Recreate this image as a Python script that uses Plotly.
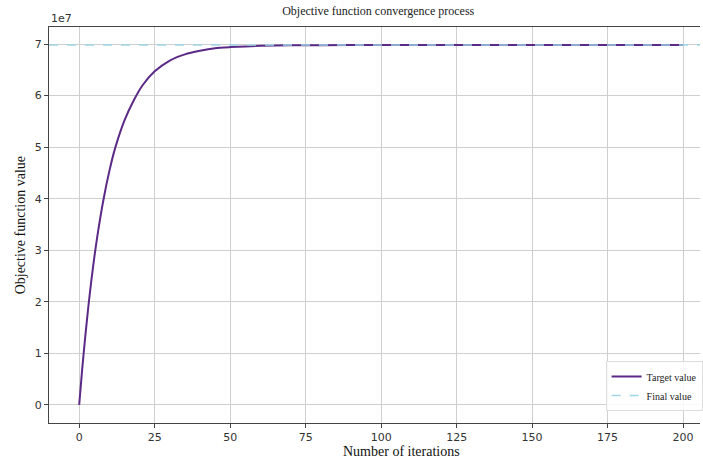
import plotly.graph_objects as go

iterations = [0, 1, 2, 3, 4, 5, 6, 8, 10, 12, 15, 18, 21, 25, 30, 35, 40, 45, 50, 60, 70, 80, 100, 125, 150, 175, 200]
objective = [0.0, 0.70e7, 1.32e7, 1.89e7, 2.40e7, 2.86e7, 3.27e7, 3.97e7, 4.54e7, 5.00e7, 5.52e7,
             5.90e7, 6.20e7, 6.47e7, 6.68e7, 6.80e7, 6.87e7, 6.92e7, 6.94e7, 6.965e7, 6.975e7,
             6.978e7, 6.98e7, 6.98e7, 6.98e7, 6.98e7, 6.98e7]
final_value = 6.98e7
x_ticks = [0, 25, 50, 75, 100, 125, 150, 175, 200]
y_ticks = [0, 1, 2, 3, 4, 5, 6, 7]

fig = go.Figure()
fig.add_trace(go.Scatter(x=iterations, y=objective, mode="lines", name="Target value",
                         line=dict(color="#5b2a86", width=2, shape="spline", smoothing=0.6)))
fig.add_trace(go.Scatter(x=[-10, 215], y=[final_value, final_value], mode="lines", name="Final value",
                         line=dict(color="#9fd6e6", width=1.5, dash="dash")))

serif = "Liberation Serif, Times New Roman, serif"
sans = "DejaVu Sans, Arial, sans-serif"

fig.update_layout(
    width=703, height=461,
    margin=dict(l=49, r=0, t=27, b=38),
    paper_bgcolor="white", plot_bgcolor="white",
    title=dict(text="Objective function convergence process", x=0.538, xanchor="center",
               y=0.985, yanchor="top", font=dict(family=serif, size=12, color="#222")),
    xaxis=dict(range=[-10, 205.6], tickvals=x_ticks, showgrid=True, gridcolor="#cfcfcf", gridwidth=1,
               showline=True, linecolor="#444", linewidth=1.2, mirror=True, automargin=False,
               ticks="outside", ticklen=4, tickcolor="#444", zeroline=False,
               tickfont=dict(family=sans, size=11, color="#333")),
    yaxis=dict(range=[-0.35e7, 7.33e7], tickvals=[v * 1e7 for v in y_ticks], ticktext=[str(v) for v in y_ticks],
               showgrid=True, gridcolor="#cfcfcf", gridwidth=1, automargin=False,
               showline=True, linecolor="#444", linewidth=1.2,
               ticks="outside", ticklen=4, tickcolor="#444", zeroline=False,
               tickfont=dict(family=sans, size=11, color="#333")),
    legend=dict(x=0.855, y=0.03, xanchor="left", yanchor="bottom",
                bgcolor="rgba(255,255,255,0.85)", bordercolor="#dddddd", borderwidth=1,
                font=dict(family=serif, size=10, color="#222")),
    annotations=[
        dict(text="1e7", xref="paper", yref="paper", x=0, y=1.0, xanchor="left", yanchor="bottom",
             showarrow=False, font=dict(family=sans, size=11, color="#333")),
        dict(text="Number of iterations", xref="paper", yref="paper", x=0.541, y=-0.073, xanchor="center",
             yanchor="middle", showarrow=False, font=dict(family=serif, size=14, color="#111")),
        dict(text="Objective function value", xref="paper", yref="paper", x=-0.044, y=0.5, textangle=-90,
             xanchor="center", yanchor="middle", showarrow=False, font=dict(family=serif, size=14, color="#111")),
    ],
)

fig.write_html("out.html", config={"displayModeBar": False},
               post_script="document.body.style.margin='0';document.body.style.overflow='hidden';")
